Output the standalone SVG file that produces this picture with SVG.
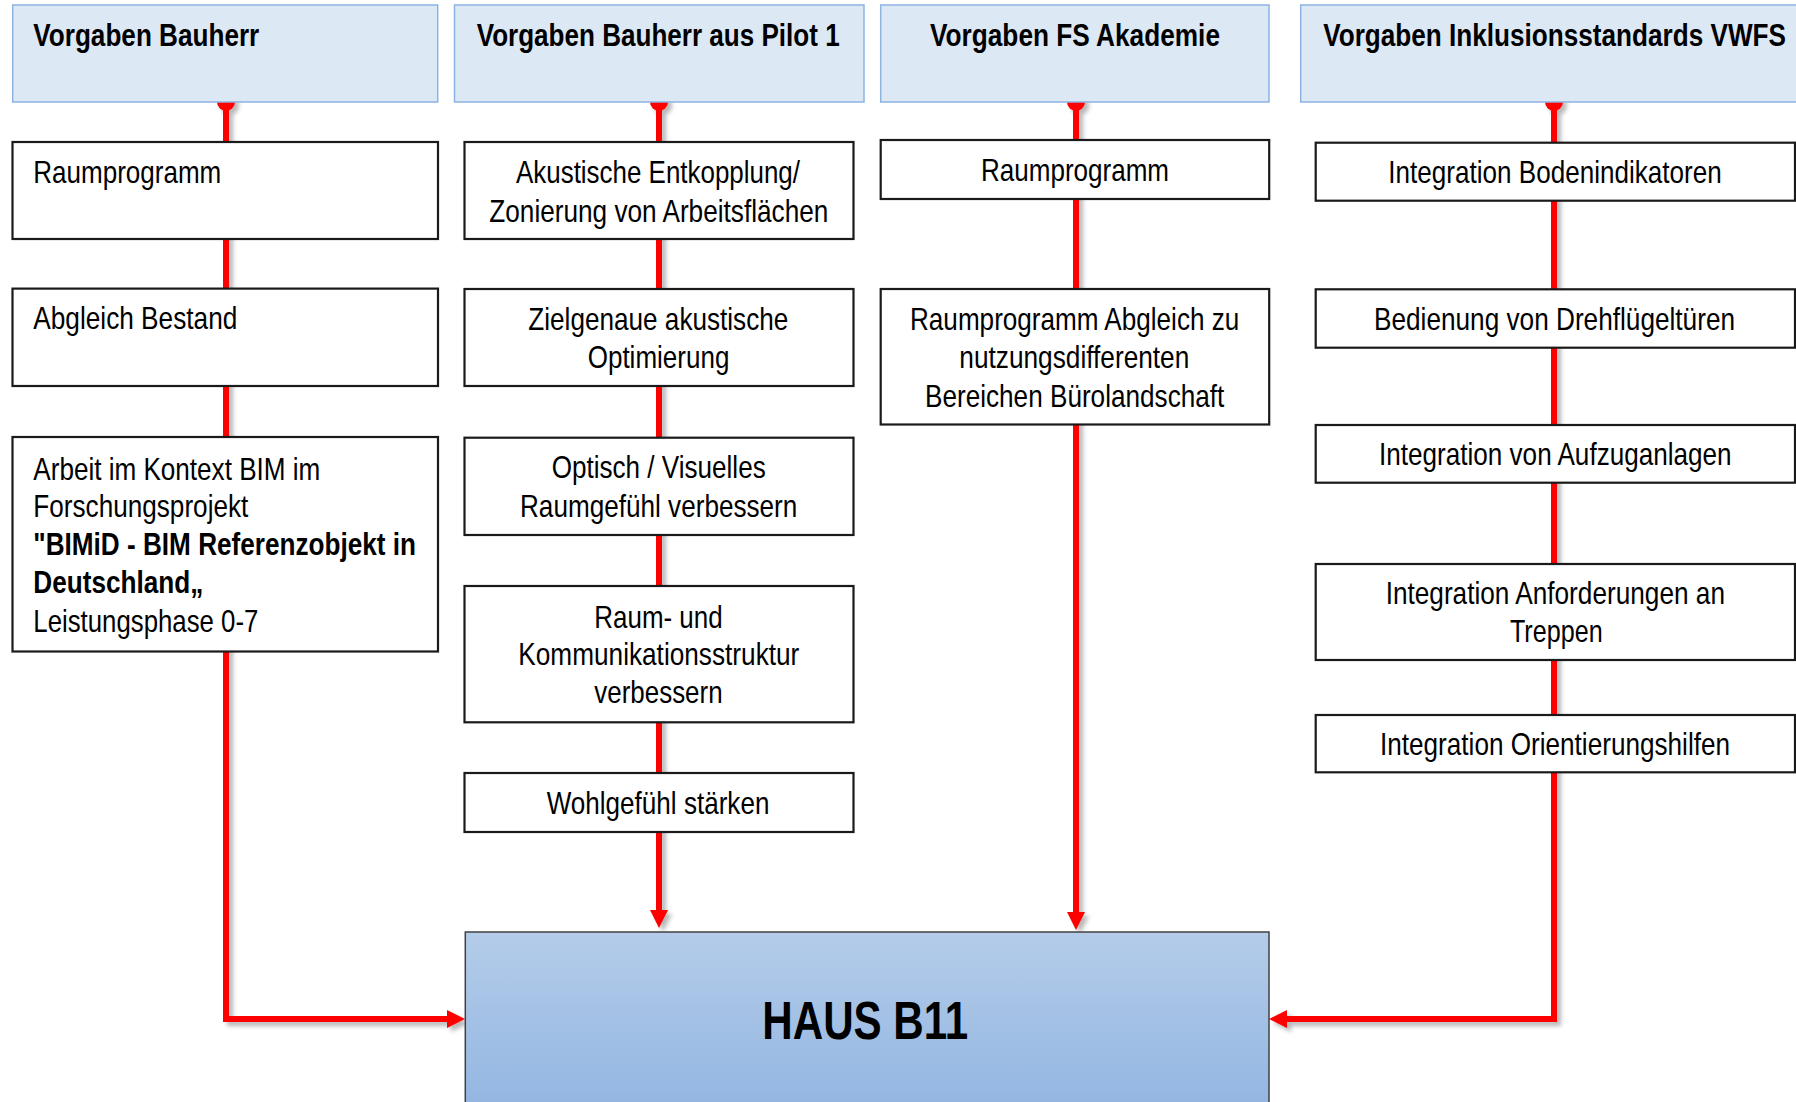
<svg xmlns="http://www.w3.org/2000/svg" width="1796" height="1102" viewBox="0 0 1796 1102">
<style>
.hdr{fill:#dde8f5;stroke:#8db3e2;stroke-width:1.5}
.box{fill:#ffffff;stroke:#1a1a1a;stroke-width:2.2}
.haus{fill:url(#hg);stroke:#404040;stroke-width:1.5}
.t{font-family:"Liberation Sans Narrow","Arial Narrow","Liberation Sans",Arial,sans-serif;font-size:32px;fill:#000}
.b{font-family:"Liberation Sans Narrow","Arial Narrow","Liberation Sans",Arial,sans-serif;font-size:31px;font-weight:bold;fill:#000}
.big{font-family:"Liberation Sans Narrow","Arial Narrow","Liberation Sans",Arial,sans-serif;font-size:53px;font-weight:bold;fill:#000}
.m{text-anchor:middle}
.con{fill:none;stroke:#ff0000;stroke-width:6;stroke-linejoin:miter}
.dot{fill:#ff0000}
</style>
<defs>
<linearGradient id="hg" x1="0" y1="932" x2="0" y2="1102" gradientUnits="userSpaceOnUse">
<stop offset="0" stop-color="#b4cce9"/>
<stop offset="1" stop-color="#94b7e2"/>
</linearGradient>
<filter id="sh" x="-20%" y="-20%" width="140%" height="140%">
<feDropShadow dx="4" dy="4" stdDeviation="2" flood-color="#000" flood-opacity="0.28"/>
</filter>
<marker id="ah" markerUnits="userSpaceOnUse" markerWidth="18" markerHeight="18" refX="0" refY="9" orient="auto">
<path d="M0,0 L18,9 L0,18 z" fill="#ff0000"/>
</marker>
</defs>
<rect x="0" y="0" width="1796" height="1102" fill="#ffffff"/>
<g id="connectors" filter="url(#sh)">
<circle class="dot" cx="226" cy="102" r="9"/>
<circle class="dot" cx="659" cy="102" r="9"/>
<circle class="dot" cx="1076" cy="102" r="9"/>
<circle class="dot" cx="1554" cy="102" r="9"/>
<path class="con" d="M226,102 V1019 H447" marker-end="url(#ah)"/>
<path class="con" d="M659,102 V910" marker-end="url(#ah)"/>
<path class="con" d="M1076,102 V912" marker-end="url(#ah)"/>
<path class="con" d="M1554,102 V1019 H1287" marker-end="url(#ah)"/>
</g>
<g id="hdr-bauherr">
<rect class="hdr" x="12.7" y="5" width="425" height="97"/>
<text class="b" x="33.3" y="46" textLength="226" lengthAdjust="spacingAndGlyphs">Vorgaben Bauherr</text>
</g>
<g id="hdr-pilot1">
<rect class="hdr" x="454.5" y="5" width="409.5" height="97"/>
<text class="b" x="476.7" y="46" textLength="363" lengthAdjust="spacingAndGlyphs">Vorgaben Bauherr aus Pilot 1</text>
</g>
<g id="hdr-fs">
<rect class="hdr" x="880.7" y="5" width="388.3" height="97"/>
<text class="b" x="930" y="46" textLength="290" lengthAdjust="spacingAndGlyphs">Vorgaben FS Akademie</text>
</g>
<g id="hdr-vwfs">
<rect class="hdr" x="1300.7" y="5" width="497" height="97"/>
<text class="b m" x="1554.6" y="46" textLength="462.7" lengthAdjust="spacingAndGlyphs">Vorgaben Inklusionsstandards VWFS</text>
</g>
<g id="c1-raumprogramm">
<rect class="box" x="12.5" y="142" width="425.5" height="97"/>
<text class="t" x="33.3" y="182.7" textLength="188" lengthAdjust="spacingAndGlyphs">Raumprogramm</text>
</g>
<g id="c1-abgleich">
<rect class="box" x="12.5" y="288.6" width="425.5" height="97.4"/>
<text class="t" x="33.3" y="329" textLength="204" lengthAdjust="spacingAndGlyphs">Abgleich Bestand</text>
</g>
<g id="c1-bim">
<rect class="box" x="12.5" y="437" width="425.5" height="214.5"/>
<text class="t" x="33.3" y="480" textLength="287" lengthAdjust="spacingAndGlyphs">Arbeit im Kontext BIM im</text>
<text class="t" x="33.3" y="516.7" textLength="215" lengthAdjust="spacingAndGlyphs">Forschungsprojekt</text>
<text class="b" x="33.3" y="555" textLength="382.7" lengthAdjust="spacingAndGlyphs">"BIMiD - BIM Referenzobjekt in</text>
<text class="b" x="33.3" y="593.3" textLength="170" lengthAdjust="spacingAndGlyphs">Deutschland„</text>
<text class="t" x="33.3" y="632.3" textLength="225" lengthAdjust="spacingAndGlyphs">Leistungsphase 0-7</text>
</g>
<g id="c2-akustik">
<rect class="box" x="464.5" y="142" width="389" height="97"/>
<text class="t" x="516" y="183.3" textLength="284" lengthAdjust="spacingAndGlyphs">Akustische Entkopplung/</text>
<text class="t" x="489.3" y="221.7" textLength="339" lengthAdjust="spacingAndGlyphs">Zonierung von Arbeitsflächen</text>
</g>
<g id="c2-optimierung">
<rect class="box" x="464.5" y="289" width="389" height="97"/>
<text class="t" x="528.3" y="330" textLength="260" lengthAdjust="spacingAndGlyphs">Zielgenaue akustische</text>
<text class="t" x="587.7" y="368.3" textLength="141.7" lengthAdjust="spacingAndGlyphs">Optimierung</text>
</g>
<g id="c2-optisch">
<rect class="box" x="464.5" y="437.7" width="389" height="97.3"/>
<text class="t" x="551.7" y="478.3" textLength="214" lengthAdjust="spacingAndGlyphs">Optisch / Visuelles</text>
<text class="t" x="520" y="516.7" textLength="277.3" lengthAdjust="spacingAndGlyphs">Raumgefühl verbessern</text>
</g>
<g id="c2-kommunikation">
<rect class="box" x="464.5" y="586" width="389" height="136.3"/>
<text class="t" x="594.3" y="627.7" textLength="128.3" lengthAdjust="spacingAndGlyphs">Raum- und</text>
<text class="t" x="518.3" y="665" textLength="281" lengthAdjust="spacingAndGlyphs">Kommunikationsstruktur</text>
<text class="t" x="594.3" y="702.7" textLength="128.3" lengthAdjust="spacingAndGlyphs">verbessern</text>
</g>
<g id="c2-wohlgefuehl">
<rect class="box" x="464.5" y="773" width="389" height="59"/>
<text class="t" x="546.7" y="814" textLength="222.7" lengthAdjust="spacingAndGlyphs">Wohlgefühl stärken</text>
</g>
<g id="c3-raumprogramm">
<rect class="box" x="880.7" y="140" width="388.5" height="59"/>
<text class="t" x="981" y="180.5" textLength="188" lengthAdjust="spacingAndGlyphs">Raumprogramm</text>
</g>
<g id="c3-abgleich">
<rect class="box" x="880.7" y="289" width="388.5" height="135.5"/>
<text class="t" x="910" y="330" textLength="329.3" lengthAdjust="spacingAndGlyphs">Raumprogramm Abgleich zu</text>
<text class="t" x="959.3" y="368.3" textLength="230" lengthAdjust="spacingAndGlyphs">nutzungsdifferenten</text>
<text class="t" x="925" y="406.7" textLength="299.3" lengthAdjust="spacingAndGlyphs">Bereichen Bürolandschaft</text>
</g>
<g id="c4-boden">
<rect class="box" x="1315.7" y="142.7" width="479.3" height="58"/>
<text class="t m" x="1555" y="182.7" textLength="333.3" lengthAdjust="spacingAndGlyphs">Integration Bodenindikatoren</text>
</g>
<g id="c4-drehfluegel">
<rect class="box" x="1315.7" y="289.3" width="479.3" height="58.4"/>
<text class="t m" x="1554.5" y="330" textLength="361" lengthAdjust="spacingAndGlyphs">Bedienung von Drehflügeltüren</text>
</g>
<g id="c4-aufzug">
<rect class="box" x="1315.7" y="425" width="479.3" height="57.7"/>
<text class="t m" x="1555.3" y="465" textLength="352.7" lengthAdjust="spacingAndGlyphs">Integration von Aufzuganlagen</text>
</g>
<g id="c4-treppen">
<rect class="box" x="1315.7" y="564" width="479.3" height="96"/>
<text class="t m" x="1555.3" y="604.3" textLength="339.3" lengthAdjust="spacingAndGlyphs">Integration Anforderungen an</text>
<text class="t m" x="1556.3" y="641.7" textLength="92.7" lengthAdjust="spacingAndGlyphs">Treppen</text>
</g>
<g id="c4-orientierung">
<rect class="box" x="1315.7" y="715" width="479.3" height="57.3"/>
<text class="t m" x="1555" y="755" textLength="350" lengthAdjust="spacingAndGlyphs">Integration Orientierungshilfen</text>
</g>
<g id="haus-b11">
<rect class="haus" x="465.3" y="932" width="803.7" height="200"/>
<text class="big" x="762.3" y="1039" textLength="206" lengthAdjust="spacingAndGlyphs">HAUS B11</text>
</g>
</svg>
